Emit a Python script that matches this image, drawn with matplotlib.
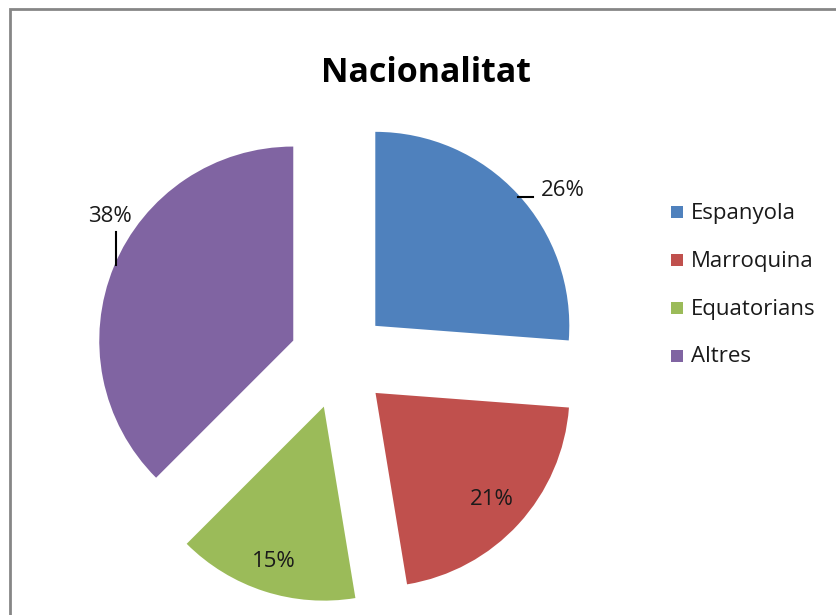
import matplotlib.pyplot as plt
import numpy as np

labels = ['Espanyola', 'Marroquina', 'Equatorians', 'Altres']
values = [26.2, 21.2, 15.1, 37.5]
colors = ['#4F81BD', '#C0504D', '#9BBB59', '#8064A2']

W, H = 836, 615
plt.rcParams['font.family'] = ['Open Sans', 'DejaVu Sans']

fig = plt.figure(figsize=(W / 100, H / 100), dpi=100)
ax = fig.add_axes([0, 0, 1, 1])

# pie geometry in pixel units (y up); explode is in data units
cx, cy, r, ex = 339, 255.5, 194, 49.5
wedges, texts, autotexts = ax.pie(
    values, colors=colors, startangle=90, counterclock=False,
    center=(cx, cy), radius=r, explode=[ex] * 4,
    autopct='%1.0f%%', pctdistance=0.8,
    textprops={'fontsize': 16, 'color': '#1a1a1a'},
    wedgeprops={'linewidth': 0})

# put inside labels relative to exploded wedge vertex
angles = 90 - np.cumsum([0] + values[:-1]) * 3.6 - np.array(values) * 1.8
inner = [0.8, 0.81, 0.84, 0.8]
for i, t in enumerate(autotexts):
    a = np.deg2rad(angles[i])
    vx = cx + ex * np.cos(a)
    vy = cy + ex * np.sin(a)
    t.set_position((vx + inner[i] * r * np.cos(a),
                    vy + inner[i] * r * np.sin(a)))
    t.set_ha('center')
    t.set_va('center')

# outside labels for Espanyola and Altres with leader lines
autotexts[0].set_position((563, H - 191))
ax.plot([518, 533], [H - 197, H - 197], color='black', lw=1.5)
autotexts[3].set_position((110, H - 217))
ax.plot([116, 116], [H - 232, H - 265], color='black', lw=1.5)

ax.set_xlim(0, W)
ax.set_ylim(0, H)
ax.set_aspect('equal')
ax.axis('off')

ax.text(426, H - 73, 'Nacionalitat', ha='center', va='center',
        fontsize=24.5, fontweight='bold')

# legend
for i, lab in enumerate(labels):
    y = H - (213 + 48 * i)
    ax.add_patch(plt.Rectangle((671, y - 5), 12, 12, color=colors[i], lw=0))
    ax.text(691, y, lab, ha='left', va='center', fontsize=16, color='#1a1a1a')

# chart border
ax.plot([9.5, 9.5, W + 5], [-5, H - 8.5, H - 8.5], color='#868686', lw=2,
        solid_joinstyle='miter', clip_on=False)

fig.savefig('out.png', dpi=100)
